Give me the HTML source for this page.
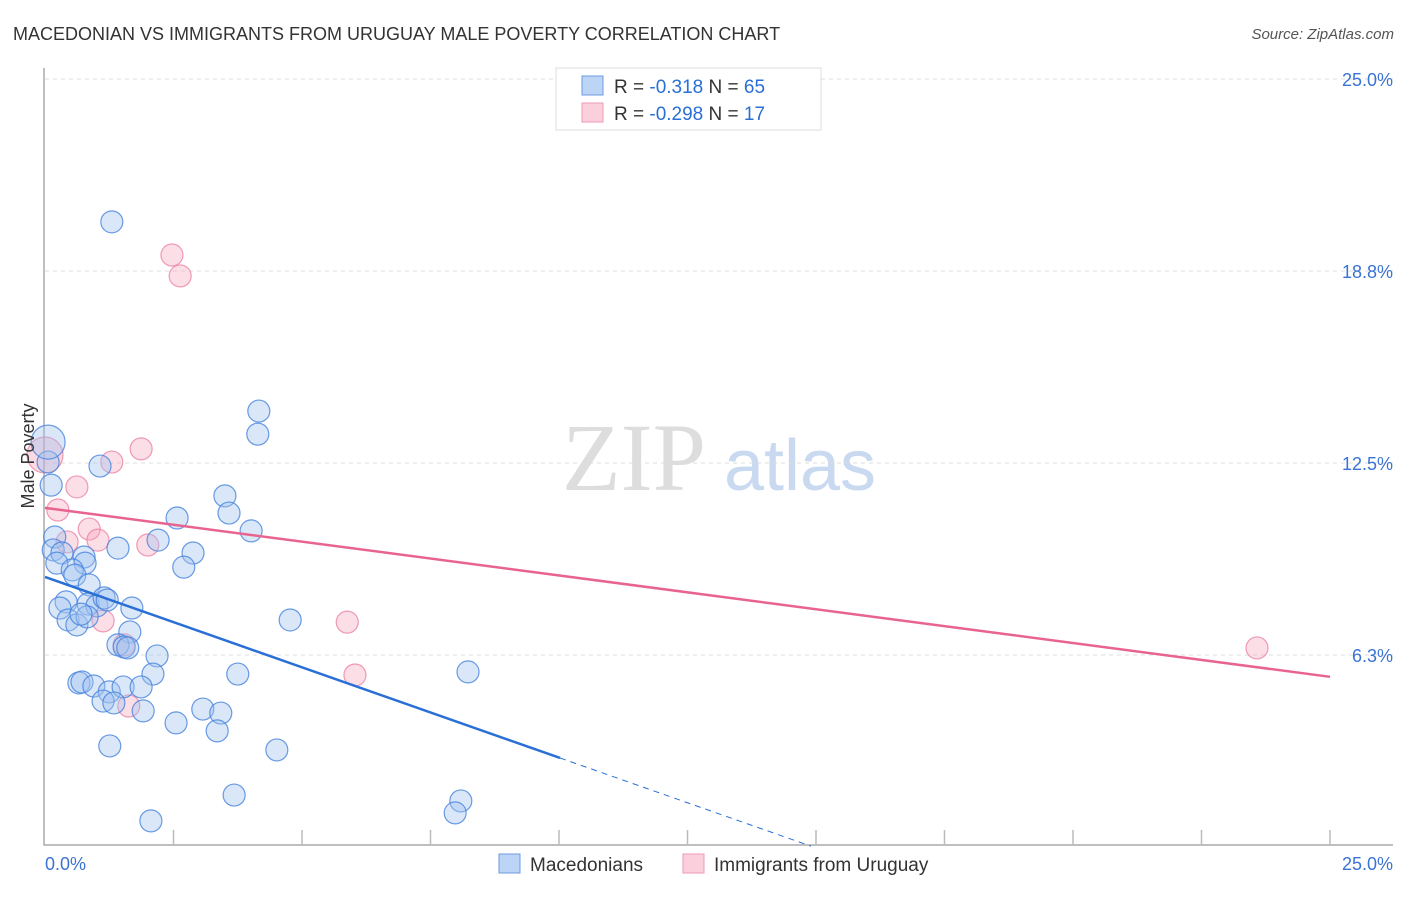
<!DOCTYPE html>
<html><head><meta charset="utf-8"><style>
body{margin:0;background:#fff;font-family:"Liberation Sans",sans-serif}
svg text{font-family:"Liberation Sans",sans-serif}
</style></head><body>
<svg id="c" width="1406" height="892">
<text x="13" y="40" font-size="18" fill="#333">MACEDONIAN VS IMMIGRANTS FROM URUGUAY MALE POVERTY CORRELATION CHART</text>
<text x="1394" y="39" font-size="15" fill="#555" text-anchor="end" font-style="italic">Source: ZipAtlas.com</text>
<g><text x="634" y="490" font-size="96" fill="#ddd" text-anchor="middle" font-family="Liberation Serif" style="font-family:'Liberation Serif'">ZIP</text><text x="800" y="490" font-size="72" fill="#c8d9f0" text-anchor="middle">atlas</text></g>
<g id="grid"></g><g id="axes"></g><g id="marks"></g>
<text transform="translate(34,456) rotate(-90)" font-size="18" fill="#333" text-anchor="middle">Male Poverty</text>
<g>
<rect x="556" y="68" width="265" height="62" fill="#fff" stroke="#ddd"/>
<rect x="582" y="76" width="21" height="19" fill="#bcd4f5" stroke="#6b9be0"/>
<rect x="582" y="103" width="21" height="19" fill="#fbd0dc" stroke="#ee9ab4"/>
<text x="614" y="93" font-size="19" fill="#333">R = <tspan fill="#2a6fd6">-0.318</tspan>   N = <tspan fill="#2a6fd6">65</tspan></text>
<text x="614" y="120" font-size="19" fill="#333">R = <tspan fill="#2a6fd6">-0.298</tspan>   N = <tspan fill="#2a6fd6"> 17</tspan></text>
</g>
<g>
<rect x="499" y="854" width="21" height="19" fill="#bcd4f5" stroke="#6b9be0"/>
<text x="530" y="871" font-size="19" fill="#333">Macedonians</text>
<rect x="683" y="854" width="21" height="19" fill="#fbd0dc" stroke="#ee9ab4"/>
<text x="714" y="871" font-size="19" fill="#333">Immigrants from Uruguay</text>
</g>
</svg>
<script>
const yTicks=[6.25,12.5,18.75,25];
const yTickLabels=["6.3%","12.5%","18.8%","25.0%"];
const xTickCount=10;
const blueX=[1.30,4.16,4.14,1.07,0.06,0.12,3.50,2.57,3.58,4.01,0.19,2.20,0.16,0.33,1.42,0.76,2.88,0.23,0.78,0.53,2.70,0.58,0.86,0.41,0.29,0.45,0.62,0.84,1.01,1.15,1.21,1.69,0.82,4.77,1.65,1.42,1.54,1.61,2.18,2.10,3.75,8.23,0.66,0.72,0.95,1.25,1.52,1.87,1.13,1.34,1.91,3.07,3.42,2.55,3.35,1.26,4.51,3.68,8.09,7.98,2.06,0.70,0.06];
const blueY=[20.35,14.19,13.44,12.40,12.53,11.78,11.43,10.71,10.87,10.29,10.09,9.99,9.67,9.57,9.73,9.44,9.57,9.24,9.24,9.02,9.11,8.85,8.53,7.98,7.78,7.39,7.23,7.91,7.85,8.11,8.04,7.78,7.49,7.39,7.00,6.58,6.51,6.48,6.22,5.63,5.63,5.70,5.34,5.37,5.24,5.05,5.21,5.21,4.75,4.69,4.43,4.49,4.36,4.04,3.78,3.29,3.16,1.69,1.50,1.11,0.85,7.58,13.18];
const blueBig=[0.06];const blueBigY=[13.18];
const pinkX=[2.47,2.63,1.87,1.30,0.62,0.25,0.86,0.43,1.03,2.00,1.13,5.88,1.54,6.03,1.63,23.58];
const pinkY=[19.27,18.59,12.96,12.53,11.72,10.97,10.35,9.93,9.99,9.83,7.36,7.32,6.58,5.60,4.59,6.48];
const pinkBigX=[0];const pinkBigY=[12.76];
const blueTrend=[8.79,-0.588];const pinkTrend=[11.04,-0.22];
const sx=v=>45+v*51.4, sy=v=>847-v*30.72;
const NS="http://www.w3.org/2000/svg";
function mk(t,a,p){const e=document.createElementNS(NS,t);for(const k in a)e.setAttribute(k,a[k]);p.appendChild(e);return e;}
const grid=document.getElementById('grid'),axes=document.getElementById('axes'),marks=document.getElementById('marks');
yTicks.forEach((t,i)=>{const l=mk('line',{x1:45,x2:1393,y1:sy(t),y2:sy(t),stroke:'#ddd','stroke-dasharray':'4,4'},grid);

const tx=mk('text',{x:1393,y:sy(t)+7,'font-size':18,fill:'#3b73d4','text-anchor':'end'},axes);tx.textContent=yTickLabels[i];
});
const ax=mk('path',{d:'M44,68V845H1393',fill:'none',stroke:'#aaa','stroke-width':1.5},axes);

for(let i=1;i<=xTickCount;i++){const x=sx(i*2.5);const t=mk('line',{x1:x,x2:x,y1:830,y2:845,stroke:'#bbb','stroke-width':1.5},axes);
}
[["0.0%",45,'start'],["25.0%",1393,'end']].forEach(d=>{const t=mk('text',{x:d[1],y:870,'font-size':18,fill:'#3b73d4','text-anchor':d[2]},axes);t.textContent=d[0];
});
function dot(x,y,r,f,s,n){const c=mk('circle',{cx:sx(x),cy:sy(y),r:r,fill:f,stroke:s,'stroke-width':1.2},marks);
}
pinkX.forEach((x,i)=>dot(x,pinkY[i],11,'rgba(245,160,185,0.35)','rgba(236,130,165,0.8)','uruguay-point'));
pinkBigX.forEach((x,i)=>dot(x,pinkBigY[i],18,'rgba(245,160,185,0.4)','rgba(236,130,165,0.8)','uruguay-point'));
blueX.forEach((x,i)=>dot(x,blueY[i],i==blueX.length-1?17:11,'rgba(160,195,240,0.4)','rgba(70,130,220,0.8)','macedonian-point'));
function tl(a,b,x0,x1,c,n,dash){const l=mk('line',{x1:sx(x0),y1:sy(a+b*x0),x2:sx(x1),y2:sy(a+b*x1),stroke:c,'stroke-width':dash?1:2.5},marks);
if(dash)l.setAttribute('stroke-dasharray','6,5');}
tl(blueTrend[0],blueTrend[1],0,10.02,'#2a6fd6','macedonian-trendline');
tl(blueTrend[0],blueTrend[1],10.02,14.9,'#2a6fd6','macedonian-trendline-extension',true);
tl(pinkTrend[0],pinkTrend[1],0,25,'#e8648f','uruguay-trendline');
</script></body></html>
